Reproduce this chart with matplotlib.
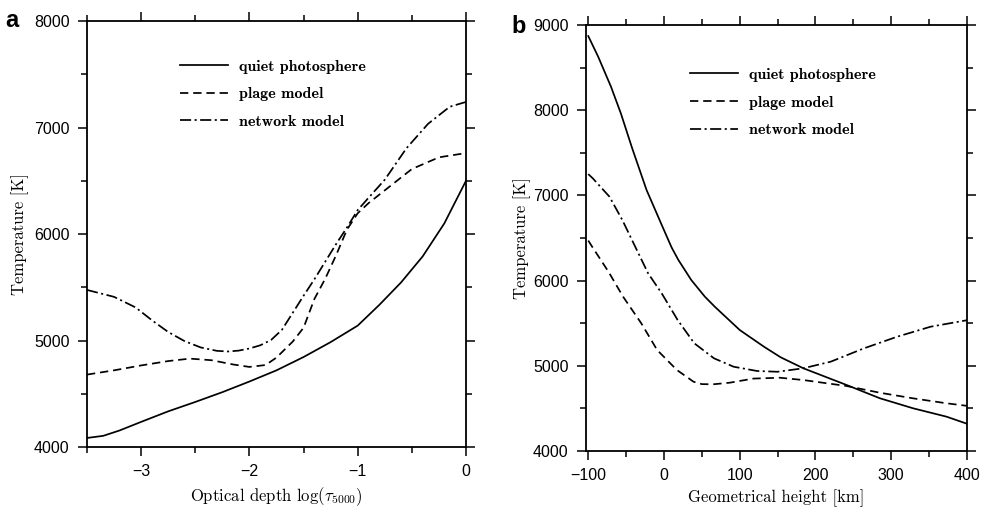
import matplotlib
matplotlib.use("Agg")
import matplotlib.pyplot as plt
from matplotlib.ticker import MultipleLocator

plt.rcParams['font.family'] = ['Liberation Sans', 'DejaVu Sans']
plt.rcParams['mathtext.fontset'] = 'cm'
plt.rcParams['lines.scale_dashes'] = False

# ---------------- data: panel a (optical depth) ----------------
logtau_quiet = [-3.5, -3.35, -3.2, -3.0, -2.75, -2.5, -2.25, -2.0, -1.75, -1.5, -1.25,
                -1.0, -0.8, -0.6, -0.4, -0.2, 0.0]
T_quiet_a = [4085, 4105, 4155, 4236, 4335, 4423, 4515, 4615, 4720, 4845, 4985,
             5140, 5335, 5545, 5790, 6100, 6500]

logtau_plage = [-3.5, -3.25, -3.0, -2.75, -2.55, -2.35, -2.15, -2.0, -1.85, -1.75,
                -1.6, -1.5, -1.4, -1.3, -1.2, -1.1, -1.0, -0.9, -0.75, -0.5,
                -0.25, 0.0]
T_plage_a = [4680, 4720, 4766, 4807, 4830, 4815, 4775, 4752, 4770, 4840,
             4990, 5120, 5390, 5580, 5800, 6040, 6195, 6290, 6410, 6610,
             6720, 6760]

logtau_network = [-3.5, -3.25, -3.05, -2.9, -2.75, -2.6, -2.45, -2.3, -2.2, -2.1,
                  -2.0, -1.9, -1.8, -1.7, -1.6, -1.5, -1.4, -1.3, -1.2, -1.1,
                  -1.0, -0.9, -0.75, -0.55, -0.35, -0.15, 0.0]
T_network_a = [5475, 5410, 5310, 5190, 5080, 4995, 4935, 4903, 4897, 4905,
               4925, 4955, 5005, 5100, 5260, 5420, 5575, 5740, 5905, 6060,
               6225, 6340, 6510, 6805, 7035, 7195, 7240]

# ---------------- data: panel b (geometrical height) ----------------
h_quiet = [-100, -87, -70, -57, -42, -23, -2, 10, 19, 36, 54, 67, 100, 132,
           154, 184, 241, 285, 329, 373, 400]
T_quiet_b = [8870, 8630, 8276, 7964, 7553, 7063, 6633, 6390, 6242, 6007, 5811,
             5694, 5420, 5224, 5100, 4971, 4775, 4619, 4501, 4403, 4320]

h_plage = [-100, -95, -73, -54, -30, -9, 17, 39, 50, 65, 87, 118, 153, 184,
           241, 285, 329, 373, 400]
T_plage_b = [6470, 6400, 6100, 5811, 5499, 5185, 4951, 4813, 4785, 4783, 4802,
             4850, 4860, 4833, 4763, 4684, 4618, 4560, 4530]

h_network = [-100, -94, -72, -55, -38, -21, -3, 18, 40, 66, 92, 123, 150, 184,
             220, 264, 308, 352, 400]
T_network_b = [7250, 7200, 6985, 6711, 6398, 6086, 5850, 5538, 5264, 5088, 4989,
               4939, 4930, 4971, 5048, 5205, 5342, 5459, 5535]

labels = ['quiet photosphere', 'plage model', 'network model']

# ---------------- figure ----------------
fig = plt.figure(figsize=(9.85, 5.11), dpi=100)
axa = fig.add_axes([0.0883, 0.1252, 0.3848, 0.8337])
axb = fig.add_axes([0.5949, 0.1174, 0.3868, 0.8337])

lw = 1.25
dash_plage = (6, 3.5)
dash_net = (8, 2.5, 1.5, 2.5)

serif_label = dict(family='cmr10', size=12)
legend_font = dict(family='cmb10', size=11.5)


def style(ax):
    for s in ax.spines.values():
        s.set_linewidth(1.3)
    ax.tick_params(which='both', direction='out', top=True, right=True,
                   labelsize=11.5, width=1.1, pad=6)
    ax.tick_params(which='major', length=6.5)
    ax.tick_params(which='minor', length=4)


# panel a
axa.plot(logtau_quiet, T_quiet_a, color='black', lw=lw, label=labels[0])
axa.plot(logtau_plage, T_plage_a, color='black', lw=lw, dashes=dash_plage, label=labels[1])
axa.plot(logtau_network, T_network_a, color='black', lw=lw, dashes=dash_net, label=labels[2])
axa.set_xlim(-3.5, 0)
axa.set_ylim(4000, 8000)
axa.xaxis.set_major_locator(MultipleLocator(1))
axa.xaxis.set_minor_locator(MultipleLocator(0.5))
axa.yaxis.set_major_locator(MultipleLocator(1000))
axa.yaxis.set_minor_locator(MultipleLocator(500))
style(axa)
axa.set_xlabel(r'Optical depth log($\tau_{\mathbf{5000}}$)', fontdict=serif_label)
axa.set_ylabel('Temperature [K]', fontdict=serif_label)
axa.xaxis.set_label_coords(0.5, -0.09)
axa.yaxis.set_label_coords(-0.153, 0.5)
axa.legend(loc='upper left', bbox_to_anchor=(0.245, 0.910), frameon=False,
           borderpad=0, borderaxespad=0, handlelength=3.0, handletextpad=0.7,
           labelspacing=0.85, prop=legend_font)

# panel b
axb.plot(h_quiet, T_quiet_b, color='black', lw=lw, label=labels[0])
axb.plot(h_plage, T_plage_b, color='black', lw=lw, dashes=dash_plage, label=labels[1])
axb.plot(h_network, T_network_b, color='black', lw=lw, dashes=dash_net, label=labels[2])
axb.set_xlim(-103, 400)
axb.set_ylim(4000, 9000)
axb.xaxis.set_major_locator(MultipleLocator(100))
axb.xaxis.set_minor_locator(MultipleLocator(50))
axb.yaxis.set_major_locator(MultipleLocator(1000))
axb.yaxis.set_minor_locator(MultipleLocator(500))
style(axb)
axb.set_xlabel('Geometrical height [km]', fontdict=serif_label)
axb.set_ylabel('Temperature [K]', fontdict=serif_label)
axb.xaxis.set_label_coords(0.5, -0.09)
axb.yaxis.set_label_coords(-0.143, 0.5)
axb.legend(loc='upper left', bbox_to_anchor=(0.274, 0.90), frameon=False,
           borderpad=0, borderaxespad=0, handlelength=3.0, handletextpad=0.7,
           labelspacing=0.85, prop=legend_font)

fig.text(0.005, 0.947, 'a', fontsize=17, fontweight='bold', ha='left', va='baseline')
fig.text(0.519, 0.935, 'b', fontsize=17, fontweight='bold', ha='left', va='baseline')

fig.savefig('out.png', dpi=100)
